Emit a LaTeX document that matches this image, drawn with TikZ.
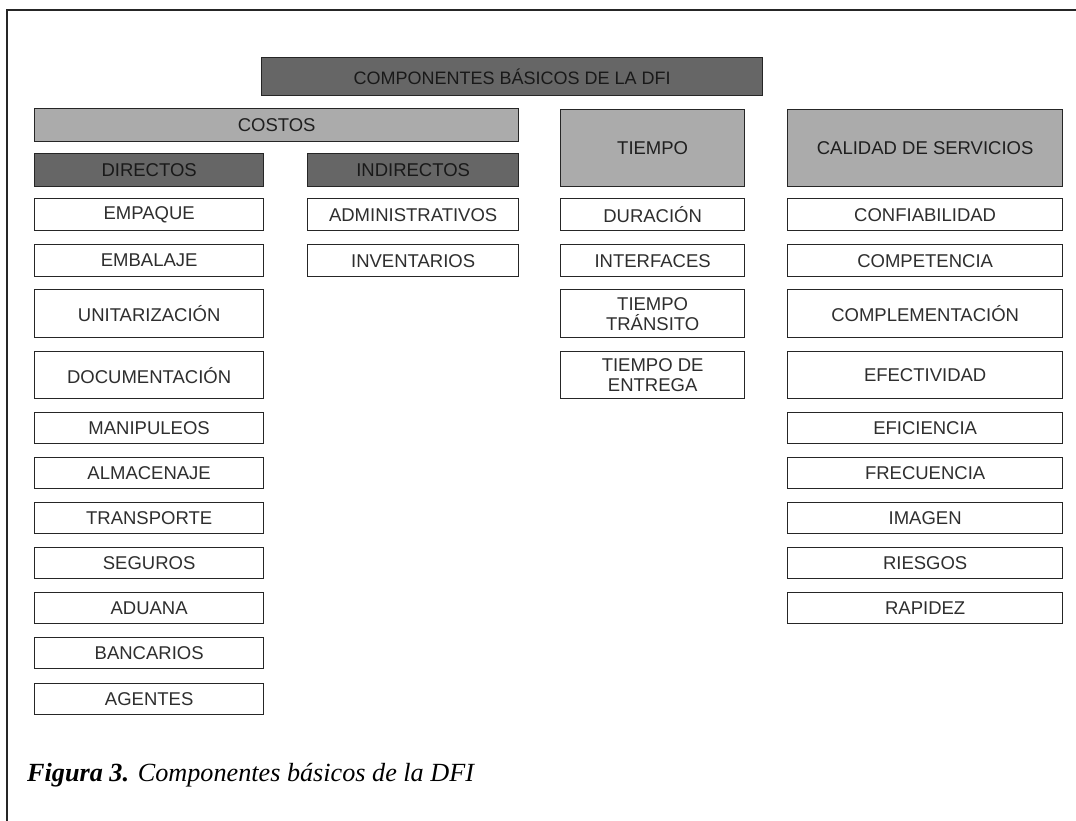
\documentclass[tikz,border=0pt]{standalone}
\usepackage{fontspec}
\setmainfont{Liberation Serif}
\setsansfont{Liberation Sans}
\begin{document}
\begin{tikzpicture}[x=1pt,y=1pt,
  cell/.style={draw=black!85, line width=1.3pt, anchor=north west, inner sep=0pt,
    align=center, font=\sffamily\fontsize{18.5}{20}\selectfont, text=black!82},
  plain/.style={cell, fill=white},
  darkcell/.style={cell, fill=black!60, text=black!90},
  lightcell/.style={cell, fill=black!33, text=black!88},
  frame/.style={draw=black!85, line width=1.5pt}]
\useasboundingbox (0,0) rectangle (1076,-821);
\fill[white] (0,0) rectangle (1076,-821);
\draw[frame] (1076,-10) -- (7,-10) -- (7,-821);

% title and column headers
\node[darkcell, font=\sffamily\fontsize{18}{20}\selectfont, minimum width=501pt, minimum height=38pt] (title) at (261,-57) {COMPONENTES BÁSICOS DE LA DFI};
\node[lightcell, minimum width=484pt, minimum height=33pt] (costos) at (34,-108) {COSTOS};
\node[lightcell, minimum width=184pt, minimum height=77pt] (tiempo) at (560,-109) {TIEMPO};
\node[lightcell, minimum width=275pt, minimum height=77pt] (calidad) at (787,-109) {CALIDAD DE SERVICIOS};
\node[darkcell, minimum width=229pt, minimum height=33pt] (directos) at (34,-153) {DIRECTOS};
\node[darkcell, minimum width=211pt, minimum height=33pt] (indirectos) at (307,-153) {INDIRECTOS};

% direct costs
\foreach \nm/\y/\h/\t in {d1/198/32/EMPAQUE, d2/244/32/EMBALAJE, d3/289/48/UNITARIZACIÓN,
    d4/351/47/DOCUMENTACIÓN, d5/412/31/MANIPULEOS, d6/457/31/ALMACENAJE,
    d7/502/31/TRANSPORTE, d8/547/31/SEGUROS, d9/592/31/ADUANA,
    d10/637/31/BANCARIOS, d11/683/31/AGENTES}
  \node[plain, minimum width=229pt, minimum height=\h pt] (\nm) at (34,-\y) {\t};

% indirect costs
\foreach \nm/\y/\h/\t in {i1/198/32/ADMINISTRATIVOS, i2/244/32/INVENTARIOS}
  \node[plain, minimum width=211pt, minimum height=\h pt] (\nm) at (307,-\y) {\t};

% time
\node[plain, minimum width=184pt, minimum height=32pt] (t1) at (560,-198) {DURACIÓN};
\node[plain, minimum width=184pt, minimum height=32pt] (t2) at (560,-244) {INTERFACES};
\node[plain, minimum width=184pt, minimum height=48pt] (t3) at (560,-289) {TIEMPO\\TRÁNSITO};
\node[plain, minimum width=184pt, minimum height=47pt] (t4) at (560,-351) {TIEMPO DE\\ENTREGA};

% service quality
\foreach \nm/\y/\h/\t in {q1/198/32/CONFIABILIDAD, q2/244/32/COMPETENCIA, q3/289/48/COMPLEMENTACIÓN,
    q4/351/47/EFECTIVIDAD, q5/412/31/EFICIENCIA, q6/457/31/FRECUENCIA,
    q7/502/31/IMAGEN, q8/547/31/RIESGOS, q9/592/31/RAPIDEZ}
  \node[plain, minimum width=275pt, minimum height=\h pt] (\nm) at (787,-\y) {\t};

% caption
\node[anchor=base west, inner sep=0pt, font=\fontsize{26.2}{28}\selectfont] (caption) at (27,-781)
  {\textbf{\textit{Figura 3.}} \textit{Componentes básicos de la DFI}};
\end{tikzpicture}
\end{document}
